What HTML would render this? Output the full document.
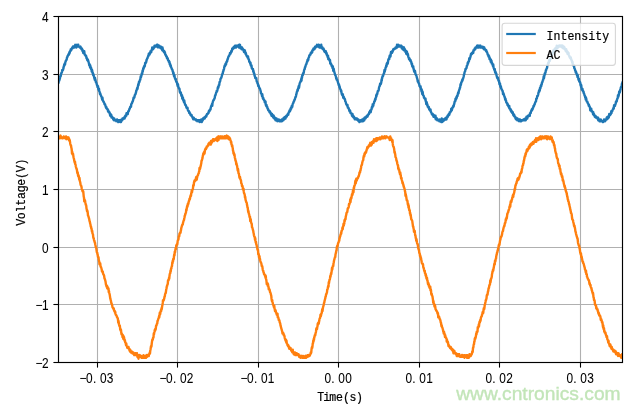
<!DOCTYPE html>
<html lang="en"><head><meta charset="utf-8"><title>Intensity / AC</title>
<style>
html,body{margin:0;padding:0;background:#fff;}
body{width:640px;height:409px;overflow:hidden;}
svg{display:block;will-change:transform;}
text{font-family:"Liberation Sans","WenQuanYi Zen Hei",sans-serif;font-size:13.8px;fill:#000;}
text{stroke:#000;stroke-width:0.06px;}
text.m{font-family:"Liberation Mono","WenQuanYi Zen Hei Mono",monospace;font-size:13.6px;stroke-width:0.22px;}
</style></head><body>
<svg width="640" height="409" viewBox="0 0 640 409">
<rect x="0" y="0" width="640" height="409" fill="#fff"/>
<g stroke="#b0b0b0" stroke-width="1.1" fill="none">
<line x1="97.5" y1="16.5" x2="97.5" y2="362.5"/>
<line x1="177.5" y1="16.5" x2="177.5" y2="362.5"/>
<line x1="258.5" y1="16.5" x2="258.5" y2="362.5"/>
<line x1="338.5" y1="16.5" x2="338.5" y2="362.5"/>
<line x1="419.5" y1="16.5" x2="419.5" y2="362.5"/>
<line x1="499.5" y1="16.5" x2="499.5" y2="362.5"/>
<line x1="580.5" y1="16.5" x2="580.5" y2="362.5"/>
<line x1="58.5" y1="16.5" x2="622.5" y2="16.5"/>
<line x1="58.5" y1="74.5" x2="622.5" y2="74.5"/>
<line x1="58.5" y1="131.5" x2="622.5" y2="131.5"/>
<line x1="58.5" y1="189.5" x2="622.5" y2="189.5"/>
<line x1="58.5" y1="247.5" x2="622.5" y2="247.5"/>
<line x1="58.5" y1="304.5" x2="622.5" y2="304.5"/>
<line x1="58.5" y1="362.5" x2="622.5" y2="362.5"/>
</g>
<clipPath id="ax"><rect x="58.5" y="16.5" width="564.0" height="346.0"/></clipPath>
<g clip-path="url(#ax)" fill="none" stroke-width="2.4" stroke-linejoin="round" stroke-linecap="square">
<polyline stroke="#1f77b4" points="58.50,82.5 58.75,81.6 59.00,80.7 59.25,80.7 59.50,79.8 59.75,78.9 60.00,78.0 60.25,76.2 60.50,76.2 60.75,76.2 61.00,74.4 61.25,73.5 61.50,72.6 61.75,72.6 62.00,71.7 62.25,69.9 62.50,70.8 62.75,69.9 63.00,69.9 63.25,69.0 63.50,68.1 63.75,66.3 64.00,66.3 64.25,64.5 64.50,64.5 64.75,63.6 65.00,64.5 65.25,62.7 65.50,61.8 65.75,60.9 66.00,60.9 66.25,60.0 66.50,60.0 66.75,59.2 67.00,57.4 67.25,57.4 67.50,56.5 67.75,55.6 68.00,55.6 68.25,54.7 68.50,54.7 68.75,53.8 69.00,54.7 69.25,52.9 69.50,52.0 69.75,52.9 70.00,51.1 70.25,51.1 70.50,51.1 70.75,49.3 71.00,49.3 71.25,50.2 71.50,49.3 71.75,48.4 72.00,48.4 72.25,47.5 72.50,48.4 72.75,47.5 73.00,46.6 73.25,47.5 73.50,46.6 73.75,47.5 74.00,46.6 74.25,47.5 74.50,46.6 74.75,46.6 75.00,45.7 75.25,44.8 75.50,46.6 75.75,46.6 76.00,45.7 76.25,47.5 76.50,45.7 76.75,45.7 77.00,44.8 77.25,45.7 77.50,45.7 77.75,46.6 78.00,46.6 78.25,44.8 78.50,46.6 78.75,46.6 79.00,46.6 79.25,46.6 79.50,46.6 79.75,47.5 80.00,47.5 80.25,47.5 80.50,46.6 80.75,47.5 81.00,48.4 81.25,48.4 81.50,49.3 81.75,48.4 82.00,49.3 82.25,49.3 82.50,51.1 82.75,50.2 83.00,52.0 83.25,52.9 83.50,52.0 83.75,52.9 84.00,52.9 84.25,51.1 84.50,53.8 84.75,54.7 85.00,54.7 85.25,54.7 85.50,55.6 85.75,55.6 86.00,55.6 86.25,56.5 86.50,58.3 86.75,58.3 87.00,58.3 87.25,60.0 87.50,59.2 87.75,60.9 88.00,60.0 88.25,60.9 88.50,61.8 88.75,62.7 89.00,63.6 89.25,65.4 89.50,65.4 89.75,64.5 90.00,67.2 90.25,65.4 90.50,68.1 90.75,67.2 91.00,69.0 91.25,68.1 91.50,69.9 91.75,71.7 92.00,69.9 92.25,70.8 92.50,72.6 92.75,73.5 93.00,73.5 93.25,75.3 93.50,74.4 93.75,76.2 94.00,76.2 94.25,78.0 94.50,78.0 94.75,79.8 95.00,78.0 95.25,79.8 95.50,79.8 95.75,81.6 96.00,82.5 96.25,82.5 96.50,83.4 96.75,84.3 97.00,85.2 97.25,85.2 97.50,87.0 97.75,87.0 98.00,86.1 98.25,88.8 98.50,89.7 98.75,88.8 99.00,88.8 99.25,91.5 99.50,91.5 99.75,92.4 100.00,94.2 100.25,93.3 100.50,94.2 100.75,95.1 101.00,96.0 101.25,96.0 101.50,96.9 101.75,97.8 102.00,98.7 102.25,99.6 102.50,97.8 102.75,100.5 103.00,100.5 103.25,101.4 103.50,101.4 103.75,102.3 104.00,102.3 104.25,103.2 104.50,104.1 104.75,104.1 105.00,104.1 105.25,105.0 105.50,105.9 105.75,106.8 106.00,107.7 106.25,106.8 106.50,107.7 106.75,108.6 107.00,108.6 107.25,108.6 107.50,109.5 107.75,109.5 108.00,111.3 108.25,110.4 108.50,112.2 108.75,111.3 109.00,112.2 109.25,112.2 109.50,112.2 109.75,113.1 110.00,114.9 110.25,115.8 110.50,114.0 110.75,115.8 111.00,115.8 111.25,114.9 111.50,117.6 111.75,117.6 112.00,116.7 112.25,116.7 112.50,117.6 112.75,117.6 113.00,118.5 113.25,119.4 113.50,118.5 113.75,119.4 114.00,120.3 114.25,118.5 114.50,119.4 114.75,119.4 115.00,120.3 115.25,120.3 115.50,120.3 115.75,120.3 116.00,120.3 116.25,121.2 116.50,120.3 116.75,120.3 117.00,119.4 117.25,121.2 117.50,120.3 117.75,121.2 118.00,121.2 118.25,122.1 118.50,121.2 118.75,120.3 119.00,121.2 119.25,120.3 119.50,121.2 119.75,120.3 120.00,120.3 120.25,122.1 120.50,121.2 120.75,122.1 121.00,122.1 121.25,120.3 121.50,119.4 121.75,119.4 122.00,120.3 122.25,120.3 122.50,118.5 122.75,119.4 123.00,118.5 123.25,118.5 123.50,118.5 123.75,117.6 124.00,117.6 124.25,117.6 124.50,118.5 124.75,116.7 125.00,117.6 125.25,115.8 125.50,116.7 125.75,115.8 126.00,115.8 126.25,115.8 126.50,113.1 126.75,113.1 127.00,114.0 127.25,113.1 127.50,113.1 127.75,114.0 128.00,112.2 128.25,111.3 128.50,111.3 128.75,111.3 129.00,110.4 129.25,109.5 129.50,108.6 129.75,108.6 130.00,107.7 130.25,106.8 130.50,106.8 130.75,106.8 131.00,106.8 131.25,104.1 131.50,104.1 131.75,103.2 132.00,103.2 132.25,102.3 132.50,101.4 132.75,101.4 133.00,100.5 133.25,99.6 133.50,97.8 133.75,97.8 134.00,97.8 134.25,97.8 134.50,96.9 134.75,95.1 135.00,95.1 135.25,94.2 135.50,94.2 135.75,93.3 136.00,92.4 136.25,90.6 136.50,90.6 136.75,89.7 137.00,88.8 137.25,87.9 137.50,88.8 137.75,87.0 138.00,86.1 138.25,84.3 138.50,85.2 138.75,83.4 139.00,81.6 139.25,82.5 139.50,81.6 139.75,80.7 140.00,79.8 140.25,79.8 140.50,78.0 140.75,76.2 141.00,77.1 141.25,76.2 141.50,75.3 141.75,73.5 142.00,74.4 142.25,73.5 142.50,70.8 142.75,71.7 143.00,69.9 143.25,68.1 143.50,69.0 143.75,68.1 144.00,66.3 144.25,67.2 144.50,66.3 144.75,66.3 145.00,64.5 145.25,62.7 145.50,62.7 145.75,62.7 146.00,62.7 146.25,61.8 146.50,60.0 146.75,60.0 147.00,59.2 147.25,58.3 147.50,58.3 147.75,57.4 148.00,56.5 148.25,56.5 148.50,55.6 148.75,53.8 149.00,54.7 149.25,53.8 149.50,54.7 149.75,52.9 150.00,53.8 150.25,52.9 150.50,51.1 150.75,51.1 151.00,51.1 151.25,52.0 151.50,50.2 151.75,50.2 152.00,49.3 152.25,47.5 152.50,48.4 152.75,49.3 153.00,49.3 153.25,47.5 153.50,47.5 153.75,48.4 154.00,47.5 154.25,47.5 154.50,45.7 154.75,45.7 155.00,45.7 155.25,46.6 155.50,45.7 155.75,46.6 156.00,46.6 156.25,45.7 156.50,46.6 156.75,46.6 157.00,44.8 157.25,45.7 157.50,45.7 157.75,44.8 158.00,47.5 158.25,46.6 158.50,45.7 158.75,45.7 159.00,46.6 159.25,45.7 159.50,46.6 159.75,47.5 160.00,47.5 160.25,46.6 160.50,46.6 160.75,48.4 161.00,46.6 161.25,47.5 161.50,47.5 161.75,48.4 162.00,49.3 162.25,50.2 162.50,47.5 162.75,50.2 163.00,49.3 163.25,51.1 163.50,51.1 163.75,52.0 164.00,52.0 164.25,51.1 164.50,52.9 164.75,52.0 165.00,52.9 165.25,54.7 165.50,54.7 165.75,54.7 166.00,55.6 166.25,56.5 166.50,56.5 166.75,56.5 167.00,58.3 167.25,58.3 167.50,58.3 167.75,58.3 168.00,60.0 168.25,60.0 168.50,60.9 168.75,61.8 169.00,60.9 169.25,62.7 169.50,61.8 169.75,64.5 170.00,63.6 170.25,64.5 170.50,66.3 170.75,65.4 171.00,67.2 171.25,67.2 171.50,68.1 171.75,69.0 172.00,69.0 172.25,69.9 172.50,69.9 172.75,71.7 173.00,71.7 173.25,73.5 173.50,72.6 173.75,74.4 174.00,76.2 174.25,75.3 174.50,75.3 174.75,78.0 175.00,78.0 175.25,78.9 175.50,79.8 175.75,78.9 176.00,80.7 176.25,81.6 176.50,81.6 176.75,82.5 177.00,82.5 177.25,84.3 177.50,85.2 177.75,86.1 178.00,84.3 178.25,87.0 178.50,87.0 178.75,87.9 179.00,88.8 179.25,88.8 179.50,88.8 179.75,91.5 180.00,92.4 180.25,92.4 180.50,93.3 180.75,92.4 181.00,93.3 181.25,95.1 181.50,96.0 181.75,96.0 182.00,95.1 182.25,98.7 182.50,96.9 182.75,98.7 183.00,97.8 183.25,100.5 183.50,100.5 183.75,101.4 184.00,102.3 184.25,100.5 184.50,102.3 184.75,103.2 185.00,104.1 185.25,105.0 185.50,105.0 185.75,105.0 186.00,105.9 186.25,106.8 186.50,107.7 186.75,107.7 187.00,107.7 187.25,107.7 187.50,107.7 187.75,109.5 188.00,110.4 188.25,110.4 188.50,111.3 188.75,111.3 189.00,111.3 189.25,113.1 189.50,112.2 189.75,113.1 190.00,113.1 190.25,114.0 190.50,114.9 190.75,114.9 191.00,114.9 191.25,115.8 191.50,114.9 191.75,115.8 192.00,116.7 192.25,116.7 192.50,117.6 192.75,117.6 193.00,117.6 193.25,119.4 193.50,117.6 193.75,117.6 194.00,118.5 194.25,118.5 194.50,119.4 194.75,119.4 195.00,119.4 195.25,119.4 195.50,119.4 195.75,120.3 196.00,119.4 196.25,120.3 196.50,120.3 196.75,120.3 197.00,120.3 197.25,121.2 197.50,120.3 197.75,120.3 198.00,120.3 198.25,120.3 198.50,121.2 198.75,121.2 199.00,120.3 199.25,120.3 199.50,120.3 199.75,122.1 200.00,120.3 200.25,120.3 200.50,120.3 200.75,120.3 201.00,121.2 201.25,119.4 201.50,120.3 201.75,122.1 202.00,119.4 202.25,121.2 202.50,120.3 202.75,120.3 203.00,118.5 203.25,119.4 203.50,118.5 203.75,117.6 204.00,117.6 204.25,118.5 204.50,118.5 204.75,118.5 205.00,117.6 205.25,116.7 205.50,116.7 205.75,116.7 206.00,115.8 206.25,116.7 206.50,115.8 206.75,114.9 207.00,114.0 207.25,114.0 207.50,114.0 207.75,114.0 208.00,113.1 208.25,113.1 208.50,113.1 208.75,111.3 209.00,111.3 209.25,110.4 209.50,111.3 209.75,110.4 210.00,109.5 210.25,109.5 210.50,109.5 210.75,107.7 211.00,106.8 211.25,105.9 211.50,105.9 211.75,105.0 212.00,104.1 212.25,105.9 212.50,103.2 212.75,102.3 213.00,101.4 213.25,100.5 213.50,100.5 213.75,99.6 214.00,99.6 214.25,98.7 214.50,98.7 214.75,97.8 215.00,96.0 215.25,95.1 215.50,95.1 215.75,94.2 216.00,93.3 216.25,92.4 216.50,92.4 216.75,90.6 217.00,91.5 217.25,90.6 217.50,89.7 217.75,87.9 218.00,87.0 218.25,87.9 218.50,87.0 218.75,85.2 219.00,85.2 219.25,85.2 219.50,82.5 219.75,81.6 220.00,81.6 220.25,80.7 220.50,78.9 220.75,78.9 221.00,78.0 221.25,78.0 221.50,77.1 221.75,76.2 222.00,75.3 222.25,74.4 222.50,73.5 222.75,73.5 223.00,71.7 223.25,71.7 223.50,69.9 223.75,69.9 224.00,69.0 224.25,67.2 224.50,66.3 224.75,65.4 225.00,66.3 225.25,65.4 225.50,63.6 225.75,64.5 226.00,64.5 226.25,62.7 226.50,61.8 226.75,61.8 227.00,61.8 227.25,60.9 227.50,59.2 227.75,59.2 228.00,58.3 228.25,57.4 228.50,56.5 228.75,56.5 229.00,55.6 229.25,55.6 229.50,54.7 229.75,54.7 230.00,52.9 230.25,53.8 230.50,53.8 230.75,52.9 231.00,52.0 231.25,51.1 231.50,52.0 231.75,51.1 232.00,50.2 232.25,48.4 232.50,49.3 232.75,49.3 233.00,48.4 233.25,47.5 233.50,48.4 233.75,48.4 234.00,46.6 234.25,47.5 234.50,46.6 234.75,47.5 235.00,45.7 235.25,45.7 235.50,45.7 235.75,45.7 236.00,47.5 236.25,45.7 236.50,45.7 236.75,45.7 237.00,45.7 237.25,45.7 237.50,46.6 237.75,45.7 238.00,46.6 238.25,45.7 238.50,46.6 238.75,45.7 239.00,47.5 239.25,44.8 239.50,45.7 239.75,45.7 240.00,44.8 240.25,46.6 240.50,48.4 240.75,47.5 241.00,48.4 241.25,47.5 241.50,47.5 241.75,49.3 242.00,47.5 242.25,49.3 242.50,48.4 242.75,49.3 243.00,49.3 243.25,49.3 243.50,50.2 243.75,51.1 244.00,52.0 244.25,51.1 244.50,50.2 244.75,50.2 245.00,51.1 245.25,52.0 245.50,53.8 245.75,52.9 246.00,53.8 246.25,54.7 246.50,55.6 246.75,55.6 247.00,56.5 247.25,56.5 247.50,57.4 247.75,57.4 248.00,56.5 248.25,58.3 248.50,59.2 248.75,59.2 249.00,60.0 249.25,61.8 249.50,61.8 249.75,61.8 250.00,62.7 250.25,63.6 250.50,62.7 250.75,65.4 251.00,65.4 251.25,66.3 251.50,65.4 251.75,68.1 252.00,68.1 252.25,69.0 252.50,69.0 252.75,69.0 253.00,69.0 253.25,71.7 253.50,70.8 253.75,72.6 254.00,73.5 254.25,73.5 254.50,75.3 254.75,76.2 255.00,76.2 255.25,78.0 255.50,78.0 255.75,78.0 256.00,78.0 256.25,78.0 256.50,79.8 256.75,81.6 257.00,81.6 257.25,82.5 257.50,83.4 257.75,83.4 258.00,84.3 258.25,86.1 258.50,85.2 258.75,86.1 259.00,87.0 259.25,87.9 259.50,87.9 259.75,88.8 260.00,88.8 260.25,89.7 260.50,90.6 260.75,91.5 261.00,93.3 261.25,93.3 261.50,94.2 261.75,94.2 262.00,96.0 262.25,94.2 262.50,96.0 262.75,97.8 263.00,98.7 263.25,97.8 263.50,98.7 263.75,99.6 264.00,99.6 264.25,100.5 264.50,100.5 264.75,102.3 265.00,102.3 265.25,102.3 265.50,101.4 265.75,105.0 266.00,105.0 266.25,105.9 266.50,105.0 266.75,106.8 267.00,106.8 267.25,106.8 267.50,108.6 267.75,108.6 268.00,108.6 268.25,110.4 268.50,110.4 268.75,110.4 269.00,110.4 269.25,111.3 269.50,112.2 269.75,112.2 270.00,111.3 270.25,112.2 270.50,113.1 270.75,114.0 271.00,113.1 271.25,114.9 271.50,115.8 271.75,115.8 272.00,114.0 272.25,115.8 272.50,114.9 272.75,116.7 273.00,115.8 273.25,117.6 273.50,117.6 273.75,115.8 274.00,117.6 274.25,118.5 274.50,118.5 274.75,118.5 275.00,117.6 275.25,119.4 275.50,120.3 275.75,119.4 276.00,119.4 276.25,119.4 276.50,118.5 276.75,119.4 277.00,119.4 277.25,121.2 277.50,119.4 277.75,119.4 278.00,120.3 278.25,120.3 278.50,120.3 278.75,119.4 279.00,121.2 279.25,121.2 279.50,120.3 279.75,120.3 280.00,121.2 280.25,120.3 280.50,121.2 280.75,120.3 281.00,120.3 281.25,121.2 281.50,120.3 281.75,119.4 282.00,121.2 282.25,120.3 282.50,119.4 282.75,120.3 283.00,119.4 283.25,120.3 283.50,118.5 283.75,117.6 284.00,117.6 284.25,119.4 284.50,118.5 284.75,118.5 285.00,117.6 285.25,116.7 285.50,118.5 285.75,116.7 286.00,116.7 286.25,115.8 286.50,115.8 286.75,116.7 287.00,115.8 287.25,114.9 287.50,114.9 287.75,114.0 288.00,114.9 288.25,114.9 288.50,113.1 288.75,112.2 289.00,112.2 289.25,112.2 289.50,110.4 289.75,111.3 290.00,111.3 290.25,110.4 290.50,108.6 290.75,109.5 291.00,107.7 291.25,108.6 291.50,107.7 291.75,105.9 292.00,105.9 292.25,106.8 292.50,105.0 292.75,104.1 293.00,103.2 293.25,103.2 293.50,102.3 293.75,101.4 294.00,101.4 294.25,100.5 294.50,99.6 294.75,99.6 295.00,98.7 295.25,97.8 295.50,96.9 295.75,96.9 296.00,96.0 296.25,94.2 296.50,94.2 296.75,92.4 297.00,91.5 297.25,91.5 297.50,89.7 297.75,90.6 298.00,88.8 298.25,88.8 298.50,87.0 298.75,86.1 299.00,87.9 299.25,86.1 299.50,84.3 299.75,83.4 300.00,82.5 300.25,82.5 300.50,81.6 300.75,80.7 301.00,80.7 301.25,78.9 301.50,80.7 301.75,77.1 302.00,78.0 302.25,75.3 302.50,75.3 302.75,75.3 303.00,73.5 303.25,73.5 303.50,73.5 303.75,72.6 304.00,70.8 304.25,69.9 304.50,69.0 304.75,69.0 305.00,67.2 305.25,67.2 305.50,66.3 305.75,65.4 306.00,64.5 306.25,64.5 306.50,63.6 306.75,62.7 307.00,61.8 307.25,61.8 307.50,60.0 307.75,60.9 308.00,59.2 308.25,60.0 308.50,58.3 308.75,57.4 309.00,57.4 309.25,55.6 309.50,55.6 309.75,54.7 310.00,54.7 310.25,54.7 310.50,54.7 310.75,52.9 311.00,52.9 311.25,52.9 311.50,52.0 311.75,52.9 312.00,51.1 312.25,52.0 312.50,50.2 312.75,50.2 313.00,50.2 313.25,49.3 313.50,48.4 313.75,49.3 314.00,49.3 314.25,48.4 314.50,49.3 314.75,48.4 315.00,46.6 315.25,47.5 315.50,46.6 315.75,47.5 316.00,46.6 316.25,46.6 316.50,46.6 316.75,45.7 317.00,44.8 317.25,45.7 317.50,45.7 317.75,46.6 318.00,45.7 318.25,45.7 318.50,44.8 318.75,45.7 319.00,44.8 319.25,47.5 319.50,45.7 319.75,45.7 320.00,46.6 320.25,46.6 320.50,46.6 320.75,47.5 321.00,46.6 321.25,44.8 321.50,46.6 321.75,48.4 322.00,48.4 322.25,48.4 322.50,47.5 322.75,48.4 323.00,49.3 323.25,48.4 323.50,48.4 323.75,49.3 324.00,50.2 324.25,51.1 324.50,51.1 324.75,52.0 325.00,51.1 325.25,52.0 325.50,52.0 325.75,51.1 326.00,52.0 326.25,53.8 326.50,52.9 326.75,53.8 327.00,55.6 327.25,55.6 327.50,55.6 327.75,57.4 328.00,55.6 328.25,59.2 328.50,58.3 328.75,58.3 329.00,59.2 329.25,59.2 329.50,60.0 329.75,60.9 330.00,60.0 330.25,63.6 330.50,62.7 330.75,63.6 331.00,63.6 331.25,64.5 331.50,65.4 331.75,66.3 332.00,65.4 332.25,66.3 332.50,68.1 332.75,66.3 333.00,67.2 333.25,70.8 333.50,69.9 333.75,69.0 334.00,70.8 334.25,71.7 334.50,72.6 334.75,73.5 335.00,74.4 335.25,75.3 335.50,75.3 335.75,76.2 336.00,77.1 336.25,78.9 336.50,78.0 336.75,79.8 337.00,79.8 337.25,79.8 337.50,80.7 337.75,81.6 338.00,82.5 338.25,83.4 338.50,84.3 338.75,85.2 339.00,84.3 339.25,87.0 339.50,86.1 339.75,87.0 340.00,88.8 340.25,88.8 340.50,89.7 340.75,89.7 341.00,91.5 341.25,90.6 341.50,92.4 341.75,94.2 342.00,94.2 342.25,95.1 342.50,95.1 342.75,94.2 343.00,95.1 343.25,97.8 343.50,97.8 343.75,96.9 344.00,97.8 344.25,98.7 344.50,98.7 344.75,98.7 345.00,99.6 345.25,101.4 345.50,101.4 345.75,102.3 346.00,103.2 346.25,104.1 346.50,104.1 346.75,105.0 347.00,105.0 347.25,105.9 347.50,105.0 347.75,107.7 348.00,107.7 348.25,107.7 348.50,107.7 348.75,108.6 349.00,109.5 349.25,110.4 349.50,111.3 349.75,111.3 350.00,110.4 350.25,111.3 350.50,113.1 350.75,113.1 351.00,113.1 351.25,113.1 351.50,114.0 351.75,114.0 352.00,115.8 352.25,115.8 352.50,114.0 352.75,116.7 353.00,115.8 353.25,115.8 353.50,116.7 353.75,117.6 354.00,116.7 354.25,117.6 354.50,117.6 354.75,119.4 355.00,118.5 355.25,119.4 355.50,119.4 355.75,118.5 356.00,118.5 356.25,118.5 356.50,119.4 356.75,118.5 357.00,118.5 357.25,119.4 357.50,119.4 357.75,120.3 358.00,120.3 358.25,119.4 358.50,121.2 358.75,120.3 359.00,121.2 359.25,121.2 359.50,122.1 359.75,121.2 360.00,121.2 360.25,120.3 360.50,120.3 360.75,121.2 361.00,121.2 361.25,121.2 361.50,120.3 361.75,121.2 362.00,120.3 362.25,119.4 362.50,120.3 362.75,121.2 363.00,120.3 363.25,121.2 363.50,120.3 363.75,118.5 364.00,119.4 364.25,120.3 364.50,118.5 364.75,117.6 365.00,118.5 365.25,118.5 365.50,118.5 365.75,117.6 366.00,117.6 366.25,116.7 366.50,116.7 366.75,115.8 367.00,115.8 367.25,115.8 367.50,116.7 367.75,115.8 368.00,114.9 368.25,114.9 368.50,114.0 368.75,114.0 369.00,114.0 369.25,112.2 369.50,112.2 369.75,112.2 370.00,111.3 370.25,110.4 370.50,110.4 370.75,112.2 371.00,110.4 371.25,109.5 371.50,109.5 371.75,107.7 372.00,106.8 372.25,107.7 372.50,106.8 372.75,104.1 373.00,105.9 373.25,105.9 373.50,104.1 373.75,103.2 374.00,103.2 374.25,101.4 374.50,101.4 374.75,101.4 375.00,99.6 375.25,98.7 375.50,99.6 375.75,97.8 376.00,97.8 376.25,95.1 376.50,96.0 376.75,94.2 377.00,94.2 377.25,94.2 377.50,92.4 377.75,91.5 378.00,90.6 378.25,90.6 378.50,90.6 378.75,89.7 379.00,87.9 379.25,87.0 379.50,86.1 379.75,86.1 380.00,84.3 380.25,83.4 380.50,83.4 380.75,84.3 381.00,83.4 381.25,82.5 381.50,79.8 381.75,80.7 382.00,78.0 382.25,78.0 382.50,76.2 382.75,76.2 383.00,76.2 383.25,75.3 383.50,74.4 383.75,73.5 384.00,73.5 384.25,71.7 384.50,69.9 384.75,71.7 385.00,69.9 385.25,69.9 385.50,68.1 385.75,67.2 386.00,67.2 386.25,65.4 386.50,66.3 386.75,63.6 387.00,64.5 387.25,62.7 387.50,62.7 387.75,63.6 388.00,61.8 388.25,60.0 388.50,59.2 388.75,59.2 389.00,58.3 389.25,59.2 389.50,56.5 389.75,55.6 390.00,56.5 390.25,55.6 390.50,56.5 390.75,53.8 391.00,52.0 391.25,52.9 391.50,52.0 391.75,52.0 392.00,52.9 392.25,51.1 392.50,52.0 392.75,51.1 393.00,50.2 393.25,49.3 393.50,49.3 393.75,49.3 394.00,49.3 394.25,49.3 394.50,48.4 394.75,48.4 395.00,48.4 395.25,48.4 395.50,47.5 395.75,48.4 396.00,47.5 396.25,47.5 396.50,46.6 396.75,46.6 397.00,44.8 397.25,47.5 397.50,46.6 397.75,45.7 398.00,45.7 398.25,45.7 398.50,44.8 398.75,45.7 399.00,46.6 399.25,46.6 399.50,45.7 399.75,45.7 400.00,46.6 400.25,46.6 400.50,45.7 400.75,45.7 401.00,46.6 401.25,45.7 401.50,46.6 401.75,48.4 402.00,47.5 402.25,46.6 402.50,47.5 402.75,49.3 403.00,48.4 403.25,47.5 403.50,47.5 403.75,50.2 404.00,47.5 404.25,50.2 404.50,49.3 404.75,49.3 405.00,49.3 405.25,50.2 405.50,52.0 405.75,51.1 406.00,52.0 406.25,53.8 406.50,51.1 406.75,52.9 407.00,52.0 407.25,54.7 407.50,53.8 407.75,53.8 408.00,54.7 408.25,56.5 408.50,57.4 408.75,57.4 409.00,59.2 409.25,59.2 409.50,58.3 409.75,60.0 410.00,60.0 410.25,60.9 410.50,60.0 410.75,60.9 411.00,61.8 411.25,61.8 411.50,63.6 411.75,64.5 412.00,63.6 412.25,66.3 412.50,66.3 412.75,67.2 413.00,67.2 413.25,66.3 413.50,69.0 413.75,69.0 414.00,70.8 414.25,71.7 414.50,71.7 414.75,70.8 415.00,70.8 415.25,72.6 415.50,74.4 415.75,74.4 416.00,75.3 416.25,75.3 416.50,76.2 416.75,77.1 417.00,78.0 417.25,78.9 417.50,79.8 417.75,81.6 418.00,80.7 418.25,82.5 418.50,82.5 418.75,83.4 419.00,83.4 419.25,84.3 419.50,86.1 419.75,86.1 420.00,87.0 420.25,86.1 420.50,86.1 420.75,87.9 421.00,89.7 421.25,88.8 421.50,91.5 421.75,89.7 422.00,92.4 422.25,94.2 422.50,91.5 422.75,92.4 423.00,95.1 423.25,95.1 423.50,96.0 423.75,96.0 424.00,97.8 424.25,97.8 424.50,97.8 424.75,98.7 425.00,98.7 425.25,99.6 425.50,98.7 425.75,101.4 426.00,101.4 426.25,104.1 426.50,104.1 426.75,102.3 427.00,105.0 427.25,104.1 427.50,105.0 427.75,106.8 428.00,106.8 428.25,106.8 428.50,107.7 428.75,106.8 429.00,107.7 429.25,109.5 429.50,109.5 429.75,109.5 430.00,110.4 430.25,109.5 430.50,109.5 430.75,111.3 431.00,112.2 431.25,112.2 431.50,113.1 431.75,114.0 432.00,114.0 432.25,114.0 432.50,114.9 432.75,114.0 433.00,114.9 433.25,115.8 433.50,116.7 433.75,114.9 434.00,115.8 434.25,115.8 434.50,116.7 434.75,115.8 435.00,117.6 435.25,117.6 435.50,115.8 435.75,119.4 436.00,117.6 436.25,117.6 436.50,118.5 436.75,118.5 437.00,118.5 437.25,120.3 437.50,119.4 437.75,120.3 438.00,120.3 438.25,120.3 438.50,120.3 438.75,120.3 439.00,120.3 439.25,121.2 439.50,119.4 439.75,119.4 440.00,120.3 440.25,121.2 440.50,121.2 440.75,120.3 441.00,120.3 441.25,122.1 441.50,120.3 441.75,118.5 442.00,122.1 442.25,120.3 442.50,120.3 442.75,120.3 443.00,119.4 443.25,121.2 443.50,120.3 443.75,119.4 444.00,120.3 444.25,120.3 444.50,119.4 444.75,119.4 445.00,118.5 445.25,119.4 445.50,118.5 445.75,119.4 446.00,117.6 446.25,118.5 446.50,119.4 446.75,117.6 447.00,117.6 447.25,117.6 447.50,115.8 447.75,116.7 448.00,116.7 448.25,114.9 448.50,114.9 448.75,114.0 449.00,114.0 449.25,114.9 449.50,114.0 449.75,112.2 450.00,112.2 450.25,112.2 450.50,112.2 450.75,111.3 451.00,111.3 451.25,108.6 451.50,109.5 451.75,110.4 452.00,109.5 452.25,107.7 452.50,107.7 452.75,107.7 453.00,106.8 453.25,105.9 453.50,106.8 453.75,105.9 454.00,104.1 454.25,104.1 454.50,102.3 454.75,101.4 455.00,101.4 455.25,101.4 455.50,98.7 455.75,99.6 456.00,99.6 456.25,97.8 456.50,96.9 456.75,97.8 457.00,96.0 457.25,96.0 457.50,96.0 457.75,94.2 458.00,93.3 458.25,92.4 458.50,93.3 458.75,91.5 459.00,90.6 459.25,89.7 459.50,89.7 459.75,87.9 460.00,87.9 460.25,87.0 460.50,84.3 460.75,85.2 461.00,84.3 461.25,82.5 461.50,82.5 461.75,81.6 462.00,80.7 462.25,79.8 462.50,80.7 462.75,78.9 463.00,78.9 463.25,78.0 463.50,77.1 463.75,76.2 464.00,74.4 464.25,74.4 464.50,72.6 464.75,71.7 465.00,71.7 465.25,70.8 465.50,69.0 465.75,69.0 466.00,69.0 466.25,68.1 466.50,68.1 466.75,66.3 467.00,65.4 467.25,65.4 467.50,64.5 467.75,62.7 468.00,63.6 468.25,61.8 468.50,61.8 468.75,61.8 469.00,60.9 469.25,58.3 469.50,59.2 469.75,59.2 470.00,58.3 470.25,57.4 470.50,56.5 470.75,55.6 471.00,53.8 471.25,54.7 471.50,53.8 471.75,53.8 472.00,52.9 472.25,53.8 472.50,52.9 472.75,52.0 473.00,52.0 473.25,52.9 473.50,50.2 473.75,50.2 474.00,50.2 474.25,50.2 474.50,49.3 474.75,48.4 475.00,49.3 475.25,49.3 475.50,47.5 475.75,47.5 476.00,47.5 476.25,47.5 476.50,47.5 476.75,46.6 477.00,45.7 477.25,47.5 477.50,45.7 477.75,45.7 478.00,46.6 478.25,45.7 478.50,46.6 478.75,47.5 479.00,46.6 479.25,45.7 479.50,45.7 479.75,45.7 480.00,45.7 480.25,47.5 480.50,45.7 480.75,46.6 481.00,46.6 481.25,46.6 481.50,47.5 481.75,47.5 482.00,47.5 482.25,46.6 482.50,46.6 482.75,46.6 483.00,48.4 483.25,48.4 483.50,48.4 483.75,47.5 484.00,49.3 484.25,47.5 484.50,49.3 484.75,49.3 485.00,49.3 485.25,49.3 485.50,50.2 485.75,50.2 486.00,51.1 486.25,50.2 486.50,51.1 486.75,52.0 487.00,52.0 487.25,52.9 487.50,53.8 487.75,54.7 488.00,54.7 488.25,54.7 488.50,56.5 488.75,55.6 489.00,56.5 489.25,56.5 489.50,59.2 489.75,58.3 490.00,58.3 490.25,59.2 490.50,59.2 490.75,61.8 491.00,60.0 491.25,61.8 491.50,60.9 491.75,63.6 492.00,62.7 492.25,63.6 492.50,63.6 492.75,65.4 493.00,66.3 493.25,64.5 493.50,67.2 493.75,68.1 494.00,68.1 494.25,69.9 494.50,69.0 494.75,69.0 495.00,71.7 495.25,72.6 495.50,71.7 495.75,72.6 496.00,73.5 496.25,73.5 496.50,75.3 496.75,76.2 497.00,77.1 497.25,78.0 497.50,77.1 497.75,78.9 498.00,78.0 498.25,79.8 498.50,80.7 498.75,80.7 499.00,80.7 499.25,82.5 499.50,84.3 499.75,83.4 500.00,83.4 500.25,86.1 500.50,87.0 500.75,86.1 501.00,87.0 501.25,88.8 501.50,88.8 501.75,89.7 502.00,89.7 502.25,90.6 502.50,90.6 502.75,91.5 503.00,94.2 503.25,93.3 503.50,93.3 503.75,94.2 504.00,95.1 504.25,96.0 504.50,96.9 504.75,96.9 505.00,98.7 505.25,99.6 505.50,98.7 505.75,100.5 506.00,100.5 506.25,102.3 506.50,102.3 506.75,103.2 507.00,103.2 507.25,103.2 507.50,105.0 507.75,104.1 508.00,105.9 508.25,105.9 508.50,105.9 508.75,106.8 509.00,107.7 509.25,105.9 509.50,108.6 509.75,108.6 510.00,108.6 510.25,108.6 510.50,110.4 510.75,109.5 511.00,111.3 511.25,110.4 511.50,112.2 511.75,112.2 512.00,111.3 512.25,113.1 512.50,113.1 512.75,112.2 513.00,114.0 513.25,114.9 513.50,114.0 513.75,115.8 514.00,114.9 514.25,114.9 514.50,116.7 514.75,116.7 515.00,116.7 515.25,116.7 515.50,118.5 515.75,117.6 516.00,119.4 516.25,118.5 516.50,118.5 516.75,118.5 517.00,118.5 517.25,120.3 517.50,118.5 517.75,119.4 518.00,120.3 518.25,120.3 518.50,120.3 518.75,119.4 519.00,121.2 519.25,120.3 519.50,119.4 519.75,119.4 520.00,119.4 520.25,121.2 520.50,121.2 520.75,120.3 521.00,120.3 521.25,120.3 521.50,121.2 521.75,120.3 522.00,120.3 522.25,120.3 522.50,120.3 522.75,120.3 523.00,120.3 523.25,120.3 523.50,119.4 523.75,120.3 524.00,119.4 524.25,120.3 524.50,119.4 524.75,120.3 525.00,119.4 525.25,118.5 525.50,119.4 525.75,120.3 526.00,119.4 526.25,118.5 526.50,116.7 526.75,117.6 527.00,117.6 527.25,118.5 527.50,116.7 527.75,116.7 528.00,115.8 528.25,116.7 528.50,115.8 528.75,115.8 529.00,115.8 529.25,114.9 529.50,114.9 529.75,115.8 530.00,113.1 530.25,113.1 530.50,113.1 530.75,113.1 531.00,111.3 531.25,111.3 531.50,110.4 531.75,109.5 532.00,110.4 532.25,108.6 532.50,109.5 532.75,108.6 533.00,107.7 533.25,107.7 533.50,105.9 533.75,105.9 534.00,105.9 534.25,105.0 534.50,104.1 534.75,104.1 535.00,103.2 535.25,102.3 535.50,102.3 535.75,101.4 536.00,101.4 536.25,98.7 536.50,98.7 536.75,98.7 537.00,97.8 537.25,96.0 537.50,96.0 537.75,96.0 538.00,95.1 538.25,94.2 538.50,92.4 538.75,92.4 539.00,90.6 539.25,91.5 539.50,89.7 539.75,90.6 540.00,87.9 540.25,88.8 540.50,87.9 540.75,86.1 541.00,85.2 541.25,86.1 541.50,84.3 541.75,84.3 542.00,82.5 542.25,82.5 542.50,81.6 542.75,80.7 543.00,79.8 543.25,79.8 543.50,78.0 543.75,76.2 544.00,78.0 544.25,76.2 544.50,75.3 544.75,73.5 545.00,74.4 545.25,72.6 545.50,72.6 545.75,70.8 546.00,69.9 546.25,69.9 546.50,69.0 546.75,68.1 547.00,68.1 547.25,66.3 547.50,65.4 547.75,65.4 548.00,63.6 548.25,62.7 548.50,63.6 548.75,62.7 549.00,60.9 549.25,60.0 549.50,60.9 549.75,60.9 550.00,60.0 550.25,59.2 550.50,59.2 550.75,57.4 551.00,57.4 551.25,57.4 551.50,54.7 551.75,55.6 552.00,54.7 552.25,53.8 552.50,52.9 552.75,53.8 553.00,52.9 553.25,52.9 553.50,50.2 553.75,51.1 554.00,52.0 554.25,50.2 554.50,49.3 554.75,49.3 555.00,48.4 555.25,48.4 555.50,49.3 555.75,48.4 556.00,49.3 556.25,47.5 556.50,47.5 556.75,45.7 557.00,47.5 557.25,48.4 557.50,47.5 557.75,46.6 558.00,47.5 558.25,46.6 558.50,46.6 558.75,45.7 559.00,45.7 559.25,46.6 559.50,45.7 559.75,46.6 560.00,45.7 560.25,46.6 560.50,46.6 560.75,45.7 561.00,46.6 561.25,45.7 561.50,45.7 561.75,46.6 562.00,45.7 562.25,47.5 562.50,45.7 562.75,45.7 563.00,46.6 563.25,48.4 563.50,47.5 563.75,46.6 564.00,46.6 564.25,47.5 564.50,47.5 564.75,49.3 565.00,49.3 565.25,49.3 565.50,49.3 565.75,51.1 566.00,49.3 566.25,49.3 566.50,52.0 566.75,52.0 567.00,51.1 567.25,52.0 567.50,53.8 567.75,52.0 568.00,52.9 568.25,53.8 568.50,52.9 568.75,54.7 569.00,55.6 569.25,55.6 569.50,56.5 569.75,57.4 570.00,57.4 570.25,58.3 570.50,58.3 570.75,57.4 571.00,59.2 571.25,59.2 571.50,60.0 571.75,60.9 572.00,60.9 572.25,62.7 572.50,61.8 572.75,64.5 573.00,64.5 573.25,65.4 573.50,65.4 573.75,65.4 574.00,65.4 574.25,68.1 574.50,68.1 574.75,69.0 575.00,69.9 575.25,70.8 575.50,70.8 575.75,72.6 576.00,71.7 576.25,72.6 576.50,73.5 576.75,74.4 577.00,75.3 577.25,74.4 577.50,77.1 577.75,75.3 578.00,77.1 578.25,78.0 578.50,79.8 578.75,78.9 579.00,78.9 579.25,81.6 579.50,81.6 579.75,81.6 580.00,82.5 580.25,82.5 580.50,85.2 580.75,84.3 581.00,87.0 581.25,85.2 581.50,87.9 581.75,89.7 582.00,88.8 582.25,89.7 582.50,88.8 582.75,90.6 583.00,91.5 583.25,91.5 583.50,91.5 583.75,93.3 584.00,93.3 584.25,94.2 584.50,95.1 584.75,96.0 585.00,96.0 585.25,97.8 585.50,96.9 585.75,99.6 586.00,97.8 586.25,98.7 586.50,100.5 586.75,101.4 587.00,101.4 587.25,101.4 587.50,102.3 587.75,103.2 588.00,103.2 588.25,104.1 588.50,104.1 588.75,105.9 589.00,105.0 589.25,105.9 589.50,106.8 589.75,106.8 590.00,107.7 590.25,110.4 590.50,108.6 590.75,110.4 591.00,108.6 591.25,108.6 591.50,111.3 591.75,111.3 592.00,111.3 592.25,111.3 592.50,112.2 592.75,112.2 593.00,114.0 593.25,112.2 593.50,114.9 593.75,114.0 594.00,114.0 594.25,114.9 594.50,115.8 594.75,116.7 595.00,116.7 595.25,116.7 595.50,115.8 595.75,117.6 596.00,116.7 596.25,116.7 596.50,117.6 596.75,117.6 597.00,117.6 597.25,118.5 597.50,118.5 597.75,118.5 598.00,117.6 598.25,120.3 598.50,118.5 598.75,120.3 599.00,120.3 599.25,120.3 599.50,121.2 599.75,120.3 600.00,121.2 600.25,120.3 600.50,121.2 600.75,119.4 601.00,120.3 601.25,121.2 601.50,121.2 601.75,121.2 602.00,121.2 602.25,121.2 602.50,121.2 602.75,121.2 603.00,122.1 603.25,121.2 603.50,121.2 603.75,120.3 604.00,119.4 604.25,120.3 604.50,120.3 604.75,121.2 605.00,121.2 605.25,121.2 605.50,119.4 605.75,120.3 606.00,119.4 606.25,119.4 606.50,118.5 606.75,117.6 607.00,119.4 607.25,118.5 607.50,118.5 607.75,116.7 608.00,118.5 608.25,117.6 608.50,117.6 608.75,117.6 609.00,115.8 609.25,114.0 609.50,115.8 609.75,114.9 610.00,114.9 610.25,114.9 610.50,114.0 610.75,114.0 611.00,114.0 611.25,111.3 611.50,113.1 611.75,111.3 612.00,111.3 612.25,111.3 612.50,110.4 612.75,109.5 613.00,109.5 613.25,108.6 613.50,107.7 613.75,108.6 614.00,105.9 614.25,105.0 614.50,105.0 614.75,105.0 615.00,105.9 615.25,104.1 615.50,104.1 615.75,103.2 616.00,101.4 616.25,102.3 616.50,101.4 616.75,101.4 617.00,99.6 617.25,98.7 617.50,98.7 617.75,97.8 618.00,95.1 618.25,96.9 618.50,96.0 618.75,95.1 619.00,93.3 619.25,91.5 619.50,92.4 619.75,92.4 620.00,91.5 620.25,89.7 620.50,89.7 620.75,87.9 621.00,87.0 621.25,87.0 621.50,86.1 621.75,85.2 622.00,83.4 622.25,84.3 622.50,82.5"/>
<polyline stroke="#ff7f0e" points="58.50,138.3 58.75,138.3 59.00,137.4 59.25,137.4 59.50,138.3 59.75,138.3 60.00,138.3 60.25,136.5 60.50,135.6 60.75,136.5 61.00,136.5 61.25,137.4 61.50,137.4 61.75,137.4 62.00,138.3 62.25,138.3 62.50,137.4 62.75,137.4 63.00,138.3 63.25,137.4 63.50,137.4 63.75,136.5 64.00,137.4 64.25,137.4 64.50,137.4 64.75,137.4 65.00,138.3 65.25,138.3 65.50,137.4 65.75,137.4 66.00,136.5 66.25,139.2 66.50,138.3 66.75,138.3 67.00,137.4 67.25,138.3 67.50,138.3 67.75,137.4 68.00,138.3 68.25,139.2 68.50,137.4 68.75,138.3 69.00,140.1 69.25,139.2 69.50,141.0 69.75,140.1 70.00,141.9 70.25,143.7 70.50,144.6 70.75,145.5 71.00,145.5 71.25,147.3 71.50,148.2 71.75,150.0 72.00,153.6 72.25,151.8 72.50,154.5 72.75,153.6 73.00,153.6 73.25,155.4 73.50,157.2 73.75,158.1 74.00,159.0 74.25,160.8 74.50,161.7 74.75,162.6 75.00,161.7 75.25,164.4 75.50,164.4 75.75,166.2 76.00,167.1 76.25,168.0 76.50,168.9 76.75,168.9 77.00,170.7 77.25,172.5 77.50,173.4 77.75,172.5 78.00,175.2 78.25,176.1 78.50,175.2 78.75,176.1 79.00,177.9 79.25,179.7 79.50,177.9 79.75,180.6 80.00,181.5 80.25,182.4 80.50,184.2 80.75,185.1 81.00,185.1 81.25,186.0 81.50,186.9 81.75,188.7 82.00,189.6 82.25,189.6 82.50,191.4 82.75,190.5 83.00,191.4 83.25,191.4 83.50,194.1 83.75,196.8 84.00,197.7 84.25,201.3 84.50,199.5 84.75,200.4 85.00,200.4 85.25,202.2 85.50,203.1 85.75,204.9 86.00,204.9 86.25,205.8 86.50,208.5 86.75,209.4 87.00,211.2 87.25,210.3 87.50,211.2 87.75,213.0 88.00,215.7 88.25,215.7 88.50,216.6 88.75,217.5 89.00,218.4 89.25,219.3 89.50,221.1 89.75,221.1 90.00,222.9 90.25,223.8 90.50,224.7 90.75,226.5 91.00,226.5 91.25,228.3 91.50,228.3 91.75,230.1 92.00,231.9 92.25,231.0 92.50,233.7 92.75,233.7 93.00,234.6 93.25,237.3 93.50,238.2 93.75,238.2 94.00,240.0 94.25,240.9 94.50,240.9 94.75,242.7 95.00,242.7 95.25,244.5 95.50,245.4 95.75,247.2 96.00,247.2 96.25,248.1 96.50,249.9 96.75,251.7 97.00,252.6 97.25,252.6 97.50,254.4 97.75,255.3 98.00,257.1 98.25,257.1 98.50,257.1 98.75,259.8 99.00,260.7 99.25,261.6 99.50,264.3 99.75,263.4 100.00,264.3 100.25,263.4 100.50,266.1 100.75,267.0 101.00,267.0 101.25,267.9 101.50,268.8 101.75,269.7 102.00,271.5 102.25,271.5 102.50,271.5 102.75,271.5 103.00,273.3 103.25,274.2 103.50,274.2 103.75,275.1 104.00,275.1 104.25,276.9 104.50,278.7 104.75,278.7 105.00,279.6 105.25,280.5 105.50,281.4 105.75,283.2 106.00,284.9 106.25,284.9 106.50,286.7 106.75,285.8 107.00,285.8 107.25,288.5 107.50,286.7 107.75,287.6 108.00,288.5 108.25,288.5 108.50,288.5 108.75,292.1 109.00,291.2 109.25,293.0 109.50,293.9 109.75,294.8 110.00,296.6 110.25,298.4 110.50,299.3 110.75,300.2 111.00,301.1 111.25,302.9 111.50,303.8 111.75,303.8 112.00,304.7 112.25,305.6 112.50,307.4 112.75,307.4 113.00,308.3 113.25,308.3 113.50,309.2 113.75,308.3 114.00,310.1 114.25,311.0 114.50,311.0 114.75,311.0 115.00,312.8 115.25,311.9 115.50,313.7 115.75,314.6 116.00,314.6 116.25,315.5 116.50,315.5 116.75,316.4 117.00,317.3 117.25,317.3 117.50,318.2 117.75,318.2 118.00,320.0 118.25,322.7 118.50,320.9 118.75,322.7 119.00,324.5 119.25,325.4 119.50,326.3 119.75,325.4 120.00,327.2 120.25,329.9 120.50,329.0 120.75,330.8 121.00,329.9 121.25,332.6 121.50,334.4 121.75,333.5 122.00,334.4 122.25,334.4 122.50,337.1 122.75,335.3 123.00,335.3 123.25,338.9 123.50,336.2 123.75,338.9 124.00,337.1 124.25,338.9 124.50,340.7 124.75,339.8 125.00,340.7 125.25,342.5 125.50,342.5 125.75,343.4 126.00,345.2 126.25,343.4 126.50,345.2 126.75,346.1 127.00,346.1 127.25,347.9 127.50,347.9 127.75,347.9 128.00,347.9 128.25,347.9 128.50,347.0 128.75,348.8 129.00,348.8 129.25,348.8 129.50,350.6 129.75,349.7 130.00,351.5 130.25,349.7 130.50,350.6 130.75,351.5 131.00,352.4 131.25,351.5 131.50,352.4 131.75,351.5 132.00,352.4 132.25,353.3 132.50,352.4 132.75,352.4 133.00,353.3 133.25,352.4 133.50,354.2 133.75,354.2 134.00,354.2 134.25,355.1 134.50,355.1 134.75,355.1 135.00,353.3 135.25,353.3 135.50,355.1 135.75,353.3 136.00,355.1 136.25,355.1 136.50,355.1 136.75,355.1 137.00,353.3 137.25,356.0 137.50,356.9 137.75,355.1 138.00,356.0 138.25,356.0 138.50,358.7 138.75,355.1 139.00,356.0 139.25,356.0 139.50,356.0 139.75,355.1 140.00,356.9 140.25,356.0 140.50,356.9 140.75,356.9 141.00,356.0 141.25,356.0 141.50,357.8 141.75,356.9 142.00,356.9 142.25,357.8 142.50,356.9 142.75,356.9 143.00,357.8 143.25,357.8 143.50,355.1 143.75,357.8 144.00,356.9 144.25,356.0 144.50,356.0 144.75,357.8 145.00,356.9 145.25,356.9 145.50,356.0 145.75,356.9 146.00,357.8 146.25,356.0 146.50,355.1 146.75,356.0 147.00,356.9 147.25,355.1 147.50,356.0 147.75,355.1 148.00,356.0 148.25,355.1 148.50,355.1 148.75,356.0 149.00,354.2 149.25,354.2 149.50,354.2 149.75,352.4 150.00,353.3 150.25,350.6 150.50,349.7 150.75,347.9 151.00,346.1 151.25,347.0 151.50,346.1 151.75,343.4 152.00,341.6 152.25,339.8 152.50,339.8 152.75,339.8 153.00,338.0 153.25,338.0 153.50,337.1 153.75,333.5 154.00,334.4 154.25,332.6 154.50,331.7 154.75,329.9 155.00,330.8 155.25,329.0 155.50,329.9 155.75,329.0 156.00,326.3 156.25,325.4 156.50,325.4 156.75,324.5 157.00,323.6 157.25,323.6 157.50,320.9 157.75,320.9 158.00,320.0 158.25,319.1 158.50,318.2 158.75,318.2 159.00,316.4 159.25,317.3 159.50,315.5 159.75,312.8 160.00,314.6 160.25,313.7 160.50,311.9 160.75,311.0 161.00,310.1 161.25,311.0 161.50,308.3 161.75,309.2 162.00,307.4 162.25,305.6 162.50,304.7 162.75,302.9 163.00,300.2 163.25,301.1 163.50,300.2 163.75,300.2 164.00,299.3 164.25,298.4 164.50,296.6 164.75,296.6 165.00,294.8 165.25,293.9 165.50,293.0 165.75,293.0 166.00,291.2 166.25,289.4 166.50,288.5 166.75,286.7 167.00,285.8 167.25,285.8 167.50,284.1 167.75,284.1 168.00,280.5 168.25,280.5 168.50,280.5 168.75,279.6 169.00,277.8 169.25,278.7 169.50,276.0 169.75,274.2 170.00,273.3 170.25,273.3 170.50,270.6 170.75,271.5 171.00,268.8 171.25,268.8 171.50,267.9 171.75,266.1 172.00,266.1 172.25,262.5 172.50,263.4 172.75,260.7 173.00,261.6 173.25,258.9 173.50,259.8 173.75,258.9 174.00,256.2 174.25,254.4 174.50,255.3 174.75,251.7 175.00,252.6 175.25,250.8 175.50,249.0 175.75,248.1 176.00,249.0 176.25,245.4 176.50,245.4 176.75,244.5 177.00,244.5 177.25,244.5 177.50,242.7 177.75,240.9 178.00,240.0 178.25,240.0 178.50,239.1 178.75,236.4 179.00,236.4 179.25,236.4 179.50,233.7 179.75,233.7 180.00,232.8 180.25,232.8 180.50,232.8 180.75,231.0 181.00,230.1 181.25,228.3 181.50,227.4 181.75,226.5 182.00,225.6 182.25,224.7 182.50,224.7 182.75,224.7 183.00,222.9 183.25,222.0 183.50,221.1 183.75,220.2 184.00,220.2 184.25,218.4 184.50,217.5 184.75,215.7 185.00,215.7 185.25,213.9 185.50,213.9 185.75,213.0 186.00,212.1 186.25,209.4 186.50,210.3 186.75,208.5 187.00,206.7 187.25,205.8 187.50,206.7 187.75,204.0 188.00,204.9 188.25,204.0 188.50,203.1 188.75,201.3 189.00,201.3 189.25,200.4 189.50,198.6 189.75,199.5 190.00,198.6 190.25,196.8 190.50,195.9 190.75,195.0 191.00,195.9 191.25,193.2 191.50,192.3 191.75,190.5 192.00,192.3 192.25,190.5 192.50,189.6 192.75,189.6 193.00,187.8 193.25,185.1 193.50,186.0 193.75,185.1 194.00,182.4 194.25,181.5 194.50,180.6 194.75,181.5 195.00,180.6 195.25,179.7 195.50,180.6 195.75,179.7 196.00,177.9 196.25,177.0 196.50,178.8 196.75,179.7 197.00,177.9 197.25,177.0 197.50,176.1 197.75,175.2 198.00,175.2 198.25,174.3 198.50,173.4 198.75,173.4 199.00,171.6 199.25,171.6 199.50,168.0 199.75,168.9 200.00,168.9 200.25,168.0 200.50,166.2 200.75,166.2 201.00,164.4 201.25,163.5 201.50,160.8 201.75,160.8 202.00,159.9 202.25,159.0 202.50,158.1 202.75,156.3 203.00,155.4 203.25,153.6 203.50,154.5 203.75,152.7 204.00,152.7 204.25,151.8 204.50,153.6 204.75,151.8 205.00,150.0 205.25,149.1 205.50,149.1 205.75,148.2 206.00,149.1 206.25,148.2 206.50,148.2 206.75,146.4 207.00,146.4 207.25,146.4 207.50,146.4 207.75,145.5 208.00,145.5 208.25,145.5 208.50,143.7 208.75,144.6 209.00,143.7 209.25,142.8 209.50,142.8 209.75,143.7 210.00,142.8 210.25,143.7 210.50,143.7 210.75,144.6 211.00,141.0 211.25,143.7 211.50,141.0 211.75,142.8 212.00,141.9 212.25,141.0 212.50,141.0 212.75,140.1 213.00,139.2 213.25,140.1 213.50,140.1 213.75,141.0 214.00,139.2 214.25,140.1 214.50,140.1 214.75,140.1 215.00,140.1 215.25,139.2 215.50,139.2 215.75,139.2 216.00,140.1 216.25,138.3 216.50,140.1 216.75,139.2 217.00,137.4 217.25,141.0 217.50,139.2 217.75,137.4 218.00,139.2 218.25,136.5 218.50,140.1 218.75,136.5 219.00,136.5 219.25,137.4 219.50,138.3 219.75,137.4 220.00,138.3 220.25,136.5 220.50,138.3 220.75,137.4 221.00,136.5 221.25,138.3 221.50,137.4 221.75,137.4 222.00,138.3 222.25,136.5 222.50,137.4 222.75,138.3 223.00,137.4 223.25,138.3 223.50,138.3 223.75,137.4 224.00,138.3 224.25,136.5 224.50,138.3 224.75,136.5 225.00,137.4 225.25,136.5 225.50,137.4 225.75,137.4 226.00,138.3 226.25,137.4 226.50,136.5 226.75,135.6 227.00,136.5 227.25,137.4 227.50,138.3 227.75,137.4 228.00,138.3 228.25,136.5 228.50,137.4 228.75,139.2 229.00,138.3 229.25,137.4 229.50,138.3 229.75,139.2 230.00,138.3 230.25,140.1 230.50,140.1 230.75,141.0 231.00,142.8 231.25,141.9 231.50,144.6 231.75,144.6 232.00,146.4 232.25,145.5 232.50,147.3 232.75,148.2 233.00,150.9 233.25,150.9 233.50,153.6 233.75,152.7 234.00,153.6 234.25,155.4 234.50,154.5 234.75,157.2 235.00,158.1 235.25,159.0 235.50,160.8 235.75,160.8 236.00,161.7 236.25,164.4 236.50,163.5 236.75,165.3 237.00,165.3 237.25,167.1 237.50,168.9 237.75,170.7 238.00,168.9 238.25,170.7 238.50,173.4 238.75,173.4 239.00,174.3 239.25,176.1 239.50,177.9 239.75,177.9 240.00,177.0 240.25,178.8 240.50,179.7 240.75,179.7 241.00,180.6 241.25,183.3 241.50,183.3 241.75,184.2 242.00,186.0 242.25,186.0 242.50,186.0 242.75,187.8 243.00,189.6 243.25,189.6 243.50,188.7 243.75,191.4 244.00,193.2 244.25,193.2 244.50,194.1 244.75,195.0 245.00,197.7 245.25,196.8 245.50,199.5 245.75,200.4 246.00,201.3 246.25,202.2 246.50,202.2 246.75,203.1 247.00,204.9 247.25,205.8 247.50,207.6 247.75,207.6 248.00,210.3 248.25,212.1 248.50,211.2 248.75,213.9 249.00,213.9 249.25,214.8 249.50,216.6 249.75,217.5 250.00,216.6 250.25,221.1 250.50,219.3 250.75,219.3 251.00,222.0 251.25,222.9 251.50,223.8 251.75,223.8 252.00,227.4 252.25,227.4 252.50,228.3 252.75,229.2 253.00,230.1 253.25,231.0 253.50,232.8 253.75,233.7 254.00,235.5 254.25,236.4 254.50,236.4 254.75,237.3 255.00,240.0 255.25,238.2 255.50,240.9 255.75,242.7 256.00,241.8 256.25,244.5 256.50,244.5 256.75,246.3 257.00,246.3 257.25,248.1 257.50,249.9 257.75,249.9 258.00,249.9 258.25,254.4 258.50,253.5 258.75,254.4 259.00,257.1 259.25,258.0 259.50,256.2 259.75,259.8 260.00,258.9 260.25,260.7 260.50,261.6 260.75,262.5 261.00,262.5 261.25,263.4 261.50,264.3 261.75,266.1 262.00,266.1 262.25,266.1 262.50,267.9 262.75,269.7 263.00,270.6 263.25,270.6 263.50,272.4 263.75,272.4 264.00,274.2 264.25,274.2 264.50,274.2 264.75,275.1 265.00,276.0 265.25,275.1 265.50,277.8 265.75,276.0 266.00,278.7 266.25,279.6 266.50,281.4 266.75,284.1 267.00,283.2 267.25,283.2 267.50,283.2 267.75,285.8 268.00,284.1 268.25,286.7 268.50,286.7 268.75,289.4 269.00,288.5 269.25,289.4 269.50,289.4 269.75,290.3 270.00,292.1 270.25,292.1 270.50,293.0 270.75,293.9 271.00,294.8 271.25,295.7 271.50,298.4 271.75,300.2 272.00,301.1 272.25,300.2 272.50,302.0 272.75,302.9 273.00,304.7 273.25,304.7 273.50,305.6 273.75,306.5 274.00,307.4 274.25,305.6 274.50,308.3 274.75,309.2 275.00,311.0 275.25,311.0 275.50,310.1 275.75,311.0 276.00,312.8 276.25,312.8 276.50,313.7 276.75,314.6 277.00,313.7 277.25,314.6 277.50,313.7 277.75,317.3 278.00,317.3 278.25,317.3 278.50,318.2 278.75,320.0 279.00,320.0 279.25,320.0 279.50,320.9 279.75,322.7 280.00,322.7 280.25,323.6 280.50,325.4 280.75,326.3 281.00,327.2 281.25,328.1 281.50,329.0 281.75,329.9 282.00,330.8 282.25,331.7 282.50,333.5 282.75,333.5 283.00,332.6 283.25,333.5 283.50,333.5 283.75,335.3 284.00,335.3 284.25,335.3 284.50,336.2 284.75,338.0 285.00,338.9 285.25,338.9 285.50,340.7 285.75,339.8 286.00,339.8 286.25,342.5 286.50,340.7 286.75,343.4 287.00,343.4 287.25,344.3 287.50,345.2 287.75,345.2 288.00,346.1 288.25,345.2 288.50,346.1 288.75,346.1 289.00,347.9 289.25,348.8 289.50,347.9 289.75,348.8 290.00,347.9 290.25,348.8 290.50,347.9 290.75,348.8 291.00,349.7 291.25,350.6 291.50,350.6 291.75,350.6 292.00,350.6 292.25,352.4 292.50,351.5 292.75,349.7 293.00,352.4 293.25,352.4 293.50,353.3 293.75,354.2 294.00,352.4 294.25,353.3 294.50,353.3 294.75,352.4 295.00,352.4 295.25,355.1 295.50,353.3 295.75,354.2 296.00,354.2 296.25,354.2 296.50,355.1 296.75,353.3 297.00,354.2 297.25,355.1 297.50,354.2 297.75,355.1 298.00,355.1 298.25,355.1 298.50,354.2 298.75,355.1 299.00,356.0 299.25,356.9 299.50,356.9 299.75,356.9 300.00,356.0 300.25,356.0 300.50,357.8 300.75,356.0 301.00,356.0 301.25,356.0 301.50,356.9 301.75,356.0 302.00,356.9 302.25,357.8 302.50,357.8 302.75,356.9 303.00,356.0 303.25,356.0 303.50,356.9 303.75,357.8 304.00,356.9 304.25,357.8 304.50,356.9 304.75,357.8 305.00,356.9 305.25,356.0 305.50,356.9 305.75,356.0 306.00,357.8 306.25,357.8 306.50,356.9 306.75,356.0 307.00,356.0 307.25,356.9 307.50,355.1 307.75,356.9 308.00,355.1 308.25,355.1 308.50,356.0 308.75,355.1 309.00,356.0 309.25,356.0 309.50,356.0 309.75,355.1 310.00,355.1 310.25,354.2 310.50,354.2 310.75,352.4 311.00,353.3 311.25,352.4 311.50,349.7 311.75,347.9 312.00,347.0 312.25,347.9 312.50,346.1 312.75,343.4 313.00,343.4 313.25,340.7 313.50,341.6 313.75,338.9 314.00,339.8 314.25,337.1 314.50,337.1 314.75,335.3 315.00,335.3 315.25,335.3 315.50,333.5 315.75,332.6 316.00,331.7 316.25,329.0 316.50,328.1 316.75,328.1 317.00,329.0 317.25,327.2 317.50,326.3 317.75,323.6 318.00,324.5 318.25,322.7 318.50,322.7 318.75,323.6 319.00,321.8 319.25,320.9 319.50,319.1 319.75,318.2 320.00,318.2 320.25,317.3 320.50,314.6 320.75,316.4 321.00,315.5 321.25,313.7 321.50,313.7 321.75,312.8 322.00,311.0 322.25,309.2 322.50,311.0 322.75,309.2 323.00,307.4 323.25,306.5 323.50,305.6 323.75,304.7 324.00,302.9 324.25,302.9 324.50,301.1 324.75,300.2 325.00,299.3 325.25,298.4 325.50,296.6 325.75,296.6 326.00,294.8 326.25,293.9 326.50,293.9 326.75,293.0 327.00,292.1 327.25,289.4 327.50,289.4 327.75,288.5 328.00,286.7 328.25,285.8 328.50,286.7 328.75,282.3 329.00,283.2 329.25,281.4 329.50,279.6 329.75,279.6 330.00,278.7 330.25,276.0 330.50,276.9 330.75,275.1 331.00,273.3 331.25,274.2 331.50,272.4 331.75,270.6 332.00,267.9 332.25,269.7 332.50,267.9 332.75,266.1 333.00,266.1 333.25,266.1 333.50,263.4 333.75,262.5 334.00,260.7 334.25,259.8 334.50,258.9 334.75,258.0 335.00,257.1 335.25,257.1 335.50,254.4 335.75,253.5 336.00,252.6 336.25,250.8 336.50,250.8 336.75,248.1 337.00,246.3 337.25,247.2 337.50,245.4 337.75,245.4 338.00,243.6 338.25,242.7 338.50,242.7 338.75,241.8 339.00,240.9 339.25,240.9 339.50,238.2 339.75,238.2 340.00,236.4 340.25,236.4 340.50,234.6 340.75,234.6 341.00,232.8 341.25,233.7 341.50,231.0 341.75,231.0 342.00,230.1 342.25,229.2 342.50,227.4 342.75,229.2 343.00,226.5 343.25,226.5 343.50,223.8 343.75,225.6 344.00,223.8 344.25,223.8 344.50,220.2 344.75,221.1 345.00,219.3 345.25,219.3 345.50,219.3 345.75,216.6 346.00,215.7 346.25,214.8 346.50,213.0 346.75,213.0 347.00,212.1 347.25,212.1 347.50,210.3 347.75,208.5 348.00,208.5 348.25,207.6 348.50,207.6 348.75,206.7 349.00,204.0 349.25,204.9 349.50,204.0 349.75,203.1 350.00,202.2 350.25,199.5 350.50,202.2 350.75,199.5 351.00,197.7 351.25,198.6 351.50,197.7 351.75,195.9 352.00,194.1 352.25,195.0 352.50,195.0 352.75,192.3 353.00,190.5 353.25,191.4 353.50,192.3 353.75,187.8 354.00,188.7 354.25,186.0 354.50,186.0 354.75,185.1 355.00,184.2 355.25,181.5 355.50,180.6 355.75,183.3 356.00,181.5 356.25,178.8 356.50,180.6 356.75,180.6 357.00,178.8 357.25,178.8 357.50,178.8 357.75,177.9 358.00,177.9 358.25,177.0 358.50,176.1 358.75,176.1 359.00,175.2 359.25,174.3 359.50,172.5 359.75,172.5 360.00,172.5 360.25,170.7 360.50,170.7 360.75,168.9 361.00,168.0 361.25,166.2 361.50,165.3 361.75,165.3 362.00,164.4 362.25,162.6 362.50,161.7 362.75,160.8 363.00,160.8 363.25,159.9 363.50,157.2 363.75,156.3 364.00,155.4 364.25,156.3 364.50,153.6 364.75,154.5 365.00,152.7 365.25,152.7 365.50,152.7 365.75,151.8 366.00,152.7 366.25,150.9 366.50,150.9 366.75,149.1 367.00,149.1 367.25,147.3 367.50,148.2 367.75,148.2 368.00,147.3 368.25,147.3 368.50,146.4 368.75,145.5 369.00,146.4 369.25,145.5 369.50,144.6 369.75,144.6 370.00,143.7 370.25,142.8 370.50,143.7 370.75,143.7 371.00,145.5 371.25,143.7 371.50,143.7 371.75,144.6 372.00,141.9 372.25,141.9 372.50,142.8 372.75,141.9 373.00,142.8 373.25,141.0 373.50,142.8 373.75,141.0 374.00,139.2 374.25,141.0 374.50,140.1 374.75,140.1 375.00,141.0 375.25,140.1 375.50,140.1 375.75,141.0 376.00,139.2 376.25,138.3 376.50,138.3 376.75,141.0 377.00,140.1 377.25,140.1 377.50,138.3 377.75,138.3 378.00,138.3 378.25,139.2 378.50,139.2 378.75,138.3 379.00,138.3 379.25,139.2 379.50,138.3 379.75,137.4 380.00,137.4 380.25,139.2 380.50,139.2 380.75,138.3 381.00,137.4 381.25,137.4 381.50,138.3 381.75,138.3 382.00,136.5 382.25,137.4 382.50,137.4 382.75,138.3 383.00,138.3 383.25,137.4 383.50,138.3 383.75,138.3 384.00,137.4 384.25,136.5 384.50,137.4 384.75,136.5 385.00,137.4 385.25,137.4 385.50,138.3 385.75,137.4 386.00,136.5 386.25,137.4 386.50,136.5 386.75,136.5 387.00,137.4 387.25,137.4 387.50,137.4 387.75,137.4 388.00,137.4 388.25,137.4 388.50,137.4 388.75,138.3 389.00,138.3 389.25,138.3 389.50,137.4 389.75,140.1 390.00,138.3 390.25,136.5 390.50,138.3 390.75,139.2 391.00,139.2 391.25,138.3 391.50,140.1 391.75,140.1 392.00,141.0 392.25,141.9 392.50,140.1 392.75,143.7 393.00,145.5 393.25,146.4 393.50,146.4 393.75,147.3 394.00,148.2 394.25,150.0 394.50,152.7 394.75,151.8 395.00,153.6 395.25,154.5 395.50,157.2 395.75,157.2 396.00,158.1 396.25,159.0 396.50,160.8 396.75,160.8 397.00,161.7 397.25,163.5 397.50,164.4 397.75,165.3 398.00,165.3 398.25,168.9 398.50,168.0 398.75,169.8 399.00,169.8 399.25,169.8 399.50,172.5 399.75,172.5 400.00,174.3 400.25,172.5 400.50,174.3 400.75,175.2 401.00,177.9 401.25,178.8 401.50,177.9 401.75,179.7 402.00,180.6 402.25,181.5 402.50,183.3 402.75,182.4 403.00,184.2 403.25,184.2 403.50,186.0 403.75,186.0 404.00,187.8 404.25,187.8 404.50,188.7 404.75,189.6 405.00,191.4 405.25,192.3 405.50,195.9 405.75,194.1 406.00,195.9 406.25,196.8 406.50,198.6 406.75,200.4 407.00,200.4 407.25,200.4 407.50,201.3 407.75,204.0 408.00,204.9 408.25,204.0 408.50,207.6 408.75,205.8 409.00,208.5 409.25,210.3 409.50,210.3 409.75,210.3 410.00,213.9 410.25,213.0 410.50,215.7 410.75,214.8 411.00,217.5 411.25,219.3 411.50,219.3 411.75,220.2 412.00,220.2 412.25,221.1 412.50,222.9 412.75,224.7 413.00,226.5 413.25,226.5 413.50,228.3 413.75,229.2 414.00,231.9 414.25,231.0 414.50,231.9 414.75,231.0 415.00,233.7 415.25,235.5 415.50,235.5 415.75,238.2 416.00,238.2 416.25,240.9 416.50,239.1 416.75,240.9 417.00,242.7 417.25,243.6 417.50,243.6 417.75,244.5 418.00,246.3 418.25,248.1 418.50,249.0 418.75,249.9 419.00,249.9 419.25,252.6 419.50,253.5 419.75,253.5 420.00,256.2 420.25,255.3 420.50,257.1 420.75,258.0 421.00,258.0 421.25,259.8 421.50,260.7 421.75,262.5 422.00,263.4 422.25,263.4 422.50,263.4 422.75,264.3 423.00,264.3 423.25,267.0 423.50,267.9 423.75,267.9 424.00,269.7 424.25,270.6 424.50,271.5 424.75,270.6 425.00,273.3 425.25,273.3 425.50,275.1 425.75,274.2 426.00,276.9 426.25,276.0 426.50,278.7 426.75,278.7 427.00,277.8 427.25,280.5 427.50,280.5 427.75,282.3 428.00,284.1 428.25,283.2 428.50,283.2 428.75,285.8 429.00,284.9 429.25,286.7 429.50,287.6 429.75,287.6 430.00,288.5 430.25,286.7 430.50,290.3 430.75,289.4 431.00,290.3 431.25,293.9 431.50,294.8 431.75,293.9 432.00,295.7 432.25,295.7 432.50,296.6 432.75,298.4 433.00,300.2 433.25,302.9 433.50,301.1 433.75,303.8 434.00,303.8 434.25,304.7 434.50,306.5 434.75,304.7 435.00,305.6 435.25,306.5 435.50,309.2 435.75,309.2 436.00,310.1 436.25,310.1 436.50,311.0 436.75,311.0 437.00,311.9 437.25,311.9 437.50,313.7 437.75,312.8 438.00,313.7 438.25,317.3 438.50,316.4 438.75,316.4 439.00,316.4 439.25,317.3 439.50,318.2 439.75,319.1 440.00,319.1 440.25,320.0 440.50,320.9 440.75,322.7 441.00,322.7 441.25,324.5 441.50,326.3 441.75,325.4 442.00,327.2 442.25,327.2 442.50,328.1 442.75,329.0 443.00,329.9 443.25,331.7 443.50,331.7 443.75,333.5 444.00,331.7 444.25,333.5 444.50,333.5 444.75,335.3 445.00,337.1 445.25,335.3 445.50,337.1 445.75,337.1 446.00,338.0 446.25,338.0 446.50,338.9 446.75,341.6 447.00,339.8 447.25,341.6 447.50,342.5 447.75,341.6 448.00,342.5 448.25,344.3 448.50,346.1 448.75,345.2 449.00,345.2 449.25,346.1 449.50,347.0 449.75,347.0 450.00,347.9 450.25,347.0 450.50,347.0 450.75,347.0 451.00,348.8 451.25,348.8 451.50,348.8 451.75,349.7 452.00,349.7 452.25,348.8 452.50,350.6 452.75,349.7 453.00,351.5 453.25,351.5 453.50,353.3 453.75,351.5 454.00,350.6 454.25,350.6 454.50,351.5 454.75,352.4 455.00,353.3 455.25,353.3 455.50,353.3 455.75,353.3 456.00,354.2 456.25,353.3 456.50,355.1 456.75,356.0 457.00,355.1 457.25,356.0 457.50,356.0 457.75,354.2 458.00,355.1 458.25,355.1 458.50,354.2 458.75,354.2 459.00,356.0 459.25,354.2 459.50,355.1 459.75,356.0 460.00,356.0 460.25,356.9 460.50,356.9 460.75,356.0 461.00,356.0 461.25,356.9 461.50,356.9 461.75,356.0 462.00,355.1 462.25,356.0 462.50,355.1 462.75,356.9 463.00,356.9 463.25,356.0 463.50,356.9 463.75,356.9 464.00,355.1 464.25,356.9 464.50,357.8 464.75,356.9 465.00,355.1 465.25,356.9 465.50,356.0 465.75,356.9 466.00,356.9 466.25,356.9 466.50,356.9 466.75,355.1 467.00,357.8 467.25,355.1 467.50,357.8 467.75,356.9 468.00,356.0 468.25,356.0 468.50,356.0 468.75,357.8 469.00,356.0 469.25,356.9 469.50,354.2 469.75,356.0 470.00,355.1 470.25,356.0 470.50,356.0 470.75,356.0 471.00,354.2 471.25,355.1 471.50,354.2 471.75,354.2 472.00,353.3 472.25,351.5 472.50,352.4 472.75,351.5 473.00,347.9 473.25,347.9 473.50,346.1 473.75,344.3 474.00,344.3 474.25,341.6 474.50,341.6 474.75,338.9 475.00,338.0 475.25,338.9 475.50,338.0 475.75,337.1 476.00,335.3 476.25,333.5 476.50,334.4 476.75,331.7 477.00,332.6 477.25,331.7 477.50,331.7 477.75,327.2 478.00,328.1 478.25,327.2 478.50,327.2 478.75,324.5 479.00,326.3 479.25,323.6 479.50,321.8 479.75,322.7 480.00,321.8 480.25,320.0 480.50,320.9 480.75,319.1 481.00,317.3 481.25,317.3 481.50,316.4 481.75,316.4 482.00,314.6 482.25,314.6 482.50,312.8 482.75,311.9 483.00,311.9 483.25,312.8 483.50,310.1 483.75,308.3 484.00,309.2 484.25,309.2 484.50,307.4 484.75,304.7 485.00,304.7 485.25,302.9 485.50,302.0 485.75,300.2 486.00,300.2 486.25,299.3 486.50,298.4 486.75,295.7 487.00,294.8 487.25,294.8 487.50,294.8 487.75,293.0 488.00,291.2 488.25,291.2 488.50,288.5 488.75,288.5 489.00,287.6 489.25,285.8 489.50,284.9 489.75,284.9 490.00,284.1 490.25,280.5 490.50,282.3 490.75,280.5 491.00,278.7 491.25,278.7 491.50,277.8 491.75,276.9 492.00,274.2 492.25,273.3 492.50,271.5 492.75,271.5 493.00,269.7 493.25,270.6 493.50,268.8 493.75,267.9 494.00,266.1 494.25,264.3 494.50,263.4 494.75,264.3 495.00,260.7 495.25,261.6 495.50,260.7 495.75,258.9 496.00,258.9 496.25,256.2 496.50,255.3 496.75,254.4 497.00,252.6 497.25,252.6 497.50,250.8 497.75,250.8 498.00,249.0 498.25,248.1 498.50,247.2 498.75,245.4 499.00,244.5 499.25,245.4 499.50,244.5 499.75,242.7 500.00,240.9 500.25,240.0 500.50,239.1 500.75,237.3 501.00,237.3 501.25,236.4 501.50,236.4 501.75,235.5 502.00,234.6 502.25,232.8 502.50,231.9 502.75,231.0 503.00,231.0 503.25,229.2 503.50,228.3 503.75,227.4 504.00,226.5 504.25,226.5 504.50,225.6 504.75,223.8 505.00,222.9 505.25,222.9 505.50,222.0 505.75,219.3 506.00,220.2 506.25,219.3 506.50,217.5 506.75,218.4 507.00,216.6 507.25,213.9 507.50,213.9 507.75,213.0 508.00,212.1 508.25,212.1 508.50,210.3 508.75,210.3 509.00,209.4 509.25,208.5 509.50,206.7 509.75,206.7 510.00,204.9 510.25,206.7 510.50,203.1 510.75,201.3 511.00,201.3 511.25,202.2 511.50,201.3 511.75,199.5 512.00,199.5 512.25,197.7 512.50,197.7 512.75,195.9 513.00,195.0 513.25,196.8 513.50,194.1 513.75,194.1 514.00,193.2 514.25,192.3 514.50,190.5 514.75,188.7 515.00,189.6 515.25,186.9 515.50,185.1 515.75,185.1 516.00,184.2 516.25,183.3 516.50,183.3 516.75,181.5 517.00,181.5 517.25,180.6 517.50,178.8 517.75,179.7 518.00,178.8 518.25,177.9 518.50,179.7 518.75,178.8 519.00,177.9 519.25,177.9 519.50,176.1 519.75,176.1 520.00,174.3 520.25,173.4 520.50,173.4 520.75,173.4 521.00,172.5 521.25,171.6 521.50,172.5 521.75,169.8 522.00,168.9 522.25,168.0 522.50,166.2 522.75,165.3 523.00,165.3 523.25,163.5 523.50,163.5 523.75,160.8 524.00,160.8 524.25,159.0 524.50,158.1 524.75,156.3 525.00,156.3 525.25,156.3 525.50,153.6 525.75,154.5 526.00,152.7 526.25,152.7 526.50,151.8 526.75,150.0 527.00,150.9 527.25,149.1 527.50,150.9 527.75,149.1 528.00,149.1 528.25,149.1 528.50,148.2 528.75,147.3 529.00,146.4 529.25,148.2 529.50,146.4 529.75,147.3 530.00,144.6 530.25,145.5 530.50,144.6 530.75,145.5 531.00,143.7 531.25,143.7 531.50,144.6 531.75,143.7 532.00,144.6 532.25,142.8 532.50,142.8 532.75,143.7 533.00,141.9 533.25,143.7 533.50,143.7 533.75,142.8 534.00,141.9 534.25,141.9 534.50,141.0 534.75,141.0 535.00,140.1 535.25,141.0 535.50,141.9 535.75,141.9 536.00,138.3 536.25,141.9 536.50,140.1 536.75,139.2 537.00,139.2 537.25,140.1 537.50,139.2 537.75,138.3 538.00,138.3 538.25,140.1 538.50,138.3 538.75,138.3 539.00,137.4 539.25,137.4 539.50,139.2 539.75,139.2 540.00,138.3 540.25,136.5 540.50,137.4 540.75,138.3 541.00,136.5 541.25,139.2 541.50,137.4 541.75,138.3 542.00,137.4 542.25,137.4 542.50,136.5 542.75,138.3 543.00,138.3 543.25,138.3 543.50,137.4 543.75,137.4 544.00,137.4 544.25,138.3 544.50,137.4 544.75,136.5 545.00,137.4 545.25,136.5 545.50,136.5 545.75,137.4 546.00,138.3 546.25,136.5 546.50,137.4 546.75,136.5 547.00,139.2 547.25,138.3 547.50,139.2 547.75,138.3 548.00,136.5 548.25,137.4 548.50,137.4 548.75,137.4 549.00,137.4 549.25,138.3 549.50,137.4 549.75,137.4 550.00,139.2 550.25,138.3 550.50,136.5 550.75,138.3 551.00,138.3 551.25,138.3 551.50,138.3 551.75,137.4 552.00,139.2 552.25,140.1 552.50,141.9 552.75,140.1 553.00,141.9 553.25,142.8 553.50,141.9 553.75,142.8 554.00,145.5 554.25,144.6 554.50,145.5 554.75,148.2 555.00,148.2 555.25,150.9 555.50,151.8 555.75,152.7 556.00,153.6 556.25,153.6 556.50,156.3 556.75,157.2 557.00,158.1 557.25,158.1 557.50,159.0 557.75,159.0 558.00,161.7 558.25,163.5 558.50,163.5 558.75,164.4 559.00,166.2 559.25,166.2 559.50,165.3 559.75,168.9 560.00,168.9 560.25,168.9 560.50,171.6 560.75,172.5 561.00,174.3 561.25,173.4 561.50,174.3 561.75,176.1 562.00,177.0 562.25,176.1 562.50,177.9 562.75,180.6 563.00,179.7 563.25,180.6 563.50,181.5 563.75,183.3 564.00,184.2 564.25,185.1 564.50,186.9 564.75,186.0 565.00,187.8 565.25,187.8 565.50,189.6 565.75,190.5 566.00,191.4 566.25,192.3 566.50,192.3 566.75,194.1 567.00,195.0 567.25,196.8 567.50,196.8 567.75,199.5 568.00,199.5 568.25,201.3 568.50,201.3 568.75,202.2 569.00,204.0 569.25,204.0 569.50,205.8 569.75,206.7 570.00,207.6 570.25,209.4 570.50,210.3 570.75,211.2 571.00,213.0 571.25,213.0 571.50,213.9 571.75,214.8 572.00,217.5 572.25,219.3 572.50,219.3 572.75,220.2 573.00,220.2 573.25,222.0 573.50,222.9 573.75,223.8 574.00,225.6 574.25,226.5 574.50,225.6 574.75,227.4 575.00,228.3 575.25,230.1 575.50,231.9 575.75,231.9 576.00,233.7 576.25,234.6 576.50,235.5 576.75,236.4 577.00,237.3 577.25,238.2 577.50,238.2 577.75,240.0 578.00,242.7 578.25,243.6 578.50,244.5 578.75,245.4 579.00,245.4 579.25,246.3 579.50,248.1 579.75,249.0 580.00,250.8 580.25,252.6 580.50,253.5 580.75,254.4 581.00,253.5 581.25,257.1 581.50,256.2 581.75,257.1 582.00,258.9 582.25,259.8 582.50,261.6 582.75,261.6 583.00,261.6 583.25,263.4 583.50,263.4 583.75,264.3 584.00,265.2 584.25,266.1 584.50,267.0 584.75,267.9 585.00,269.7 585.25,269.7 585.50,270.6 585.75,272.4 586.00,270.6 586.25,274.2 586.50,274.2 586.75,274.2 587.00,276.9 587.25,276.9 587.50,277.8 587.75,278.7 588.00,278.7 588.25,279.6 588.50,279.6 588.75,280.5 589.00,280.5 589.25,282.3 589.50,284.1 589.75,283.2 590.00,284.9 590.25,285.8 590.50,284.9 590.75,286.7 591.00,287.6 591.25,287.6 591.50,288.5 591.75,290.3 592.00,290.3 592.25,292.1 592.50,292.1 592.75,293.9 593.00,293.0 593.25,294.8 593.50,297.5 593.75,297.5 594.00,300.2 594.25,300.2 594.50,300.2 594.75,302.0 595.00,304.7 595.25,304.7 595.50,304.7 595.75,305.6 596.00,305.6 596.25,308.3 596.50,307.4 596.75,309.2 597.00,309.2 597.25,309.2 597.50,309.2 597.75,311.0 598.00,311.0 598.25,312.8 598.50,313.7 598.75,312.8 599.00,313.7 599.25,315.5 599.50,315.5 599.75,315.5 600.00,315.5 600.25,316.4 600.50,317.3 600.75,320.0 601.00,319.1 601.25,319.1 601.50,320.0 601.75,320.9 602.00,322.7 602.25,321.8 602.50,322.7 602.75,325.4 603.00,327.2 603.25,325.4 603.50,329.0 603.75,328.1 604.00,328.1 604.25,331.7 604.50,330.8 604.75,332.6 605.00,332.6 605.25,333.5 605.50,332.6 605.75,334.4 606.00,335.3 606.25,335.3 606.50,337.1 606.75,337.1 607.00,336.2 607.25,338.9 607.50,339.8 607.75,339.8 608.00,340.7 608.25,342.5 608.50,340.7 608.75,342.5 609.00,343.4 609.25,344.3 609.50,345.2 609.75,346.1 610.00,345.2 610.25,344.3 610.50,345.2 610.75,346.1 611.00,347.9 611.25,347.0 611.50,348.8 611.75,347.0 612.00,348.8 612.25,348.8 612.50,348.8 612.75,349.7 613.00,350.6 613.25,349.7 613.50,351.5 613.75,351.5 614.00,351.5 614.25,351.5 614.50,351.5 614.75,350.6 615.00,351.5 615.25,352.4 615.50,352.4 615.75,351.5 616.00,354.2 616.25,352.4 616.50,354.2 616.75,354.2 617.00,354.2 617.25,354.2 617.50,354.2 617.75,353.3 618.00,356.0 618.25,355.1 618.50,353.3 618.75,354.2 619.00,354.2 619.25,355.1 619.50,356.0 619.75,356.0 620.00,355.1 620.25,355.1 620.50,356.0 620.75,356.0 621.00,356.0 621.25,357.8 621.50,356.0 621.75,355.1 622.00,354.2 622.25,356.0 622.50,355.1"/>
</g>
<g stroke="#000" stroke-width="1.1" fill="none">
<line x1="97.5" y1="362.5" x2="97.5" y2="367.6"/>
<line x1="177.5" y1="362.5" x2="177.5" y2="367.6"/>
<line x1="258.5" y1="362.5" x2="258.5" y2="367.6"/>
<line x1="338.5" y1="362.5" x2="338.5" y2="367.6"/>
<line x1="419.5" y1="362.5" x2="419.5" y2="367.6"/>
<line x1="499.5" y1="362.5" x2="499.5" y2="367.6"/>
<line x1="580.5" y1="362.5" x2="580.5" y2="367.6"/>
<line x1="53.4" y1="16.5" x2="58.5" y2="16.5"/>
<line x1="53.4" y1="74.5" x2="58.5" y2="74.5"/>
<line x1="53.4" y1="131.5" x2="58.5" y2="131.5"/>
<line x1="53.4" y1="189.5" x2="58.5" y2="189.5"/>
<line x1="53.4" y1="247.5" x2="58.5" y2="247.5"/>
<line x1="53.4" y1="304.5" x2="58.5" y2="304.5"/>
<line x1="53.4" y1="362.5" x2="58.5" y2="362.5"/>
<rect x="58.5" y="16.5" width="564.0" height="346.0" stroke-width="1.15"/>
</g>
<text transform="translate(78.90,383.10) scale(0.86,1)" x="4.74 12.11 18.33 28.26 36.34" y="0" text-anchor="middle">−0.03</text>
<text transform="translate(158.90,383.10) scale(0.86,1)" x="4.74 12.11 18.33 28.26 36.34" y="0" text-anchor="middle">−0.02</text>
<text transform="translate(239.90,383.10) scale(0.86,1)" x="4.74 12.11 18.33 28.26 36.34" y="0" text-anchor="middle">−0.01</text>
<text transform="translate(324.21,383.10) scale(0.86,1)" x="4.04 10.25 20.19 28.26" y="0" text-anchor="middle">0.00</text>
<text transform="translate(405.21,383.10) scale(0.86,1)" x="4.04 10.25 20.19 28.26" y="0" text-anchor="middle">0.01</text>
<text transform="translate(485.21,383.10) scale(0.86,1)" x="4.04 10.25 20.19 28.26" y="0" text-anchor="middle">0.02</text>
<text transform="translate(566.21,383.10) scale(0.86,1)" x="4.04 10.25 20.19 28.26" y="0" text-anchor="middle">0.03</text>
<text transform="translate(41.85,21.80) scale(0.86,1)" x="4.04" y="0" text-anchor="middle">4</text>
<text transform="translate(41.85,79.80) scale(0.86,1)" x="4.04" y="0" text-anchor="middle">3</text>
<text transform="translate(41.85,136.80) scale(0.86,1)" x="4.04" y="0" text-anchor="middle">2</text>
<text transform="translate(41.85,194.80) scale(0.86,1)" x="4.04" y="0" text-anchor="middle">1</text>
<text transform="translate(41.85,252.80) scale(0.86,1)" x="4.04" y="0" text-anchor="middle">0</text>
<text transform="translate(34.91,309.80) scale(0.86,1)" x="4.74 12.11" y="0" text-anchor="middle">−1</text>
<text transform="translate(34.91,367.80) scale(0.86,1)" x="4.74 12.11" y="0" text-anchor="middle">−2</text>
<text class="m" transform="translate(300.00,400.60) scale(0.851,1)" x="24.21 31.26 38.54 46.42 54.52 62.40 70.04" y="0" text-anchor="middle">Time(s)</text>
<text class="m" transform="translate(25.10,225.70) rotate(-90) scale(0.851,1)" x="3.94 11.81 19.68 27.56 35.43 43.30 51.18 59.05 66.92 74.79" y="0" text-anchor="middle">Voltage(V)</text>
<rect x="502.1" y="23.3" width="113.3" height="42.1" rx="2.8" ry="2.8" fill="#fff" fill-opacity="0.8" stroke="#ccc" stroke-opacity="0.8" stroke-width="1.1"/>
<g fill="none" stroke-width="2.2" stroke-linecap="butt">
<line x1="506.2" y1="34.0" x2="535.8" y2="34.0" stroke="#1f77b4"/>
<line x1="506.2" y1="53.0" x2="535.8" y2="53.0" stroke="#ff7f0e"/>
</g>
<text class="m" transform="translate(546.60,39.80) scale(0.851,1)" x="4.08 12.24 20.40 28.56 36.72 44.89 53.05 61.21 69.37" y="0" text-anchor="middle">Intensity</text>
<text class="m" transform="translate(546.60,58.70) scale(0.851,1)" x="4.08 12.24" y="0" text-anchor="middle">AC</text>
<text x="456.2" y="399.9" textLength="164.4" lengthAdjust="spacingAndGlyphs" style="font-size:19px;fill:#c2e5b8;stroke:#c2e5b8;stroke-width:0.35px">www.cntronics.com</text>
</svg>
</body></html>
